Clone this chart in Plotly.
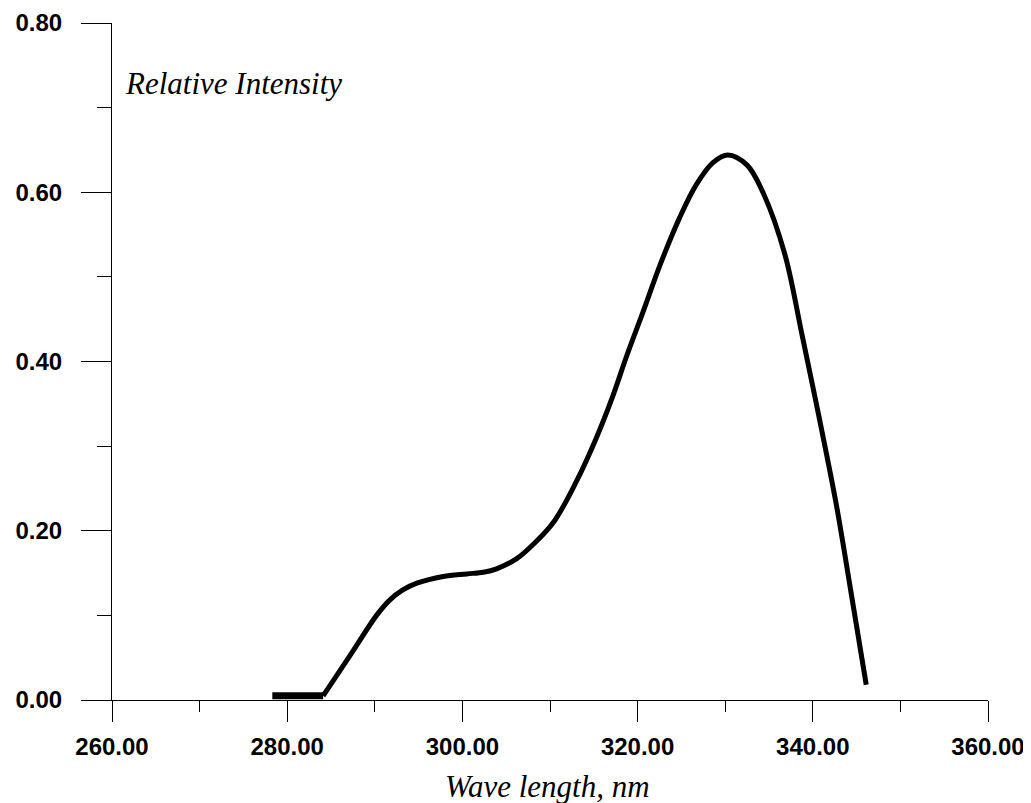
import plotly.graph_objects as go

baseline_x = [278.3, 284.1]
baseline_y = [0.005, 0.005]

wavelength = [284.1, 287.2, 290.2, 291.7, 293.2, 294.8, 297.8, 300.5, 302.4, 303.9, 306.2,
              308.1, 310.4, 313.0, 315.3, 317.2, 318.7, 320.6, 322.6, 324.8, 326.7, 328.6,
              330.3, 332.5, 334.3, 336.8, 338.8, 340.8, 342.7, 344.4, 346.1]
intensity = [0.005, 0.053, 0.100, 0.118, 0.130, 0.138, 0.146, 0.149, 0.151, 0.155, 0.167,
             0.184, 0.210, 0.258, 0.310, 0.360, 0.405, 0.458, 0.515, 0.570, 0.609, 0.635,
             0.644, 0.632, 0.600, 0.527, 0.430, 0.330, 0.230, 0.125, 0.018]

x_ticks = [260, 280, 300, 320, 340, 360]
x_ticklabels = ["260.00", "280.00", "300.00", "320.00", "340.00", "360.00"]
y_ticks = [0.0, 0.2, 0.4, 0.6, 0.8]
y_ticklabels = ["0.00", "0.20", "0.40", "0.60", "0.80"]

fig = go.Figure()
fig.add_trace(go.Scatter(x=baseline_x, y=baseline_y, mode="lines",
                         line=dict(color="black", width=7),
                         showlegend=False, hoverinfo="skip"))
fig.add_trace(go.Scatter(x=wavelength, y=intensity, mode="lines",
                         line=dict(color="black", width=5, shape="spline", smoothing=1.0),
                         showlegend=False, hoverinfo="skip"))

tickfont = dict(family="Liberation Sans, Arial, sans-serif", size=24, color="black", weight="bold")
fig.update_layout(
    width=1023, height=795,
    margin=dict(l=104, r=43, t=15, b=103, autoexpand=False),
    paper_bgcolor="white", plot_bgcolor="white",
    xaxis=dict(range=[260, 360], tickvals=x_ticks, ticktext=x_ticklabels,
               showgrid=False, zeroline=False, showline=True, linecolor="black", linewidth=1.2,
               ticks="outside", ticklen=21, tickwidth=1.2, tickcolor="black",
               minor=dict(dtick=10, ticks="outside", ticklen=11, tickwidth=1.2, tickcolor="black"),
               tickfont=tickfont, ticklabelstandoff=4, ticklabeloverflow="allow"),
    yaxis=dict(range=[0, 0.8], tickvals=y_ticks, ticktext=y_ticklabels,
               showgrid=False, zeroline=False, showline=True, linecolor="black", linewidth=1.2,
               ticks="outside", ticklen=30, tickwidth=1.2, tickcolor="black",
               minor=dict(dtick=0.1, ticks="outside", ticklen=14, tickwidth=1.2, tickcolor="black"),
               tickfont=tickfont, ticklabelstandoff=14, ticklabeloverflow="allow"),
)
titlefont = dict(family="Liberation Serif, Times New Roman, serif", size=31, color="black")
fig.add_annotation(text="<i>Relative Intensity</i>", xref="paper", yref="paper",
                   x=0.0126, y=0.911, xanchor="left", yanchor="middle", showarrow=False,
                   font=titlefont)
fig.add_annotation(text="<i>Wave length, nm</i>", xref="paper", yref="paper",
                   x=0.4966, y=-0.128, xanchor="center", yanchor="middle", showarrow=False,
                   font=titlefont)

fig.write_html("out.html")
